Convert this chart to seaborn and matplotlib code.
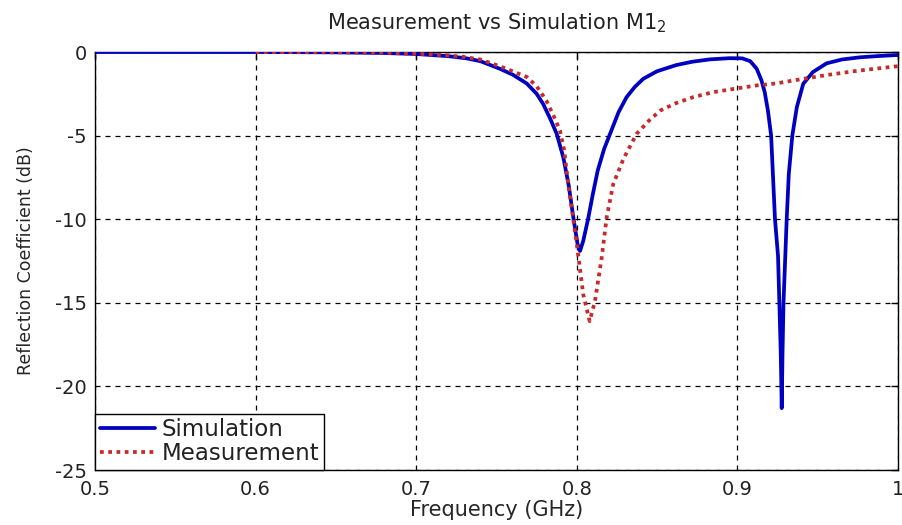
import matplotlib
matplotlib.use("Agg")
import matplotlib.pyplot as plt
import seaborn as sns
import pandas as pd

sim_freq = [0.50, 0.60, 0.65, 0.68, 0.70, 0.72, 0.7314, 0.74, 0.752, 0.76, 0.7688, 0.775,
            0.779, 0.7835, 0.7875, 0.7916, 0.795, 0.798, 0.8005, 0.802, 0.804, 0.807, 0.810,
            0.813, 0.817, 0.8207, 0.826, 0.831, 0.836, 0.8414, 0.85, 0.862, 0.872, 0.883,
            0.895, 0.903, 0.908, 0.912, 0.915, 0.917, 0.919, 0.921, 0.9234, 0.9253, 0.9270,
            0.9276, 0.9281, 0.9287, 0.9307, 0.932, 0.9342, 0.937, 0.941, 0.947, 0.9555,
            0.965, 0.976, 0.988, 1.0]
sim_db = [0.0, 0.0, -0.02, -0.06, -0.12, -0.25, -0.38, -0.55, -1.0, -1.35, -1.88, -2.5,
          -3.1, -4.0, -4.9, -6.3, -8.0, -10.0, -11.5, -11.9, -11.3, -10.0, -8.5,
          -7.1, -5.8, -4.9, -3.6, -2.7, -2.1, -1.6, -1.15, -0.78, -0.58, -0.44,
          -0.37, -0.38, -0.55, -1.0, -1.7, -2.4, -3.5, -5.0, -10.0, -12.2, -18.0,
          -21.3, -18.0, -15.0, -10.0, -7.3, -5.0, -3.3, -1.9, -1.2, -0.68,
          -0.45, -0.32, -0.24, -0.18]

meas_freq = [0.60, 0.65, 0.68, 0.70, 0.72, 0.73, 0.74, 0.752, 0.76, 0.769, 0.775, 0.781,
             0.7855, 0.7895, 0.792, 0.7947, 0.800, 0.804, 0.808, 0.8113, 0.8155, 0.8186,
             0.8227, 0.829, 0.8372, 0.845, 0.852, 0.862, 0.8725, 0.885, 0.8995, 0.912,
             0.924, 0.94, 0.9555, 0.975, 0.997, 1.0]
meas_db = [0.0, -0.02, -0.05, -0.1, -0.2, -0.3, -0.45, -0.85, -1.15, -1.5, -2.05, -2.9,
           -3.8, -4.7, -5.8, -7.9, -11.5, -14.5, -16.1, -14.9, -12.3, -9.9,
           -7.9, -6.4, -4.9, -4.1, -3.5, -3.05, -2.7, -2.4, -2.18, -2.0,
           -1.88, -1.62, -1.38, -1.12, -0.88, -0.85]

title = "Measurement vs Simulation M1$_2$"
xlabel = "Frequency (GHz)"
ylabel = "Reflection Coefficient (dB)"
xticks = [0.5, 0.6, 0.7, 0.8, 0.9, 1.0]
xticklabels = ["0.5", "0.6", "0.7", "0.8", "0.9", "1"]
yticks = [0, -5, -10, -15, -20, -25]

sns.set_style("white")
plt.rcParams['font.family'] = ['DejaVu Sans']
plt.rcParams['mathtext.fontset'] = 'dejavusans'
plt.rcParams['axes.unicode_minus'] = False
plt.rcParams['text.color'] = '#222222'

fig = plt.figure(figsize=(9.03, 5.25), dpi=100)
ax = fig.add_axes([95/903, 1-470/525, (898-95)/903, (470-52)/525])

sim = pd.DataFrame({"f": sim_freq, "db": sim_db})
meas = pd.DataFrame({"f": meas_freq, "db": meas_db})

sns.lineplot(data=sim, x="f", y="db", ax=ax, color="#0000c0", linewidth=2.7,
             label="Simulation", sort=False, zorder=3)
sns.lineplot(data=meas, x="f", y="db", ax=ax, color="#c62a2a", linewidth=2.7,
             linestyle=(0, (1, 1.2)), label="Measurement", sort=False, zorder=4)

ax.set_xlim(0.5, 1.0)
ax.set_ylim(-25, 0)
ax.set_xticks(xticks)
ax.set_xticklabels(xticklabels)
ax.set_yticks(yticks)
ax.tick_params(direction="in", length=5, width=1, labelsize=14, colors="black",
               labelcolor="#222222", top=True, right=True)
ax.tick_params(axis="x", pad=7)
ax.tick_params(axis="y", pad=6)
ax.grid(True, color="black", linestyle=(0, (4, 4)), linewidth=0.9)
for s in ax.spines.values():
    s.set_visible(True)
    s.set_color("black")
    s.set_linewidth(1.0)

ax.set_title(title, fontsize=15, pad=16)
ax.set_xlabel(xlabel, fontsize=15, labelpad=1)
ax.set_ylabel(ylabel, fontsize=12.5, labelpad=14)

leg = ax.legend(loc="lower left", fontsize=16.5, frameon=True, fancybox=False,
                borderpad=0.2, handlelength=2.4, handletextpad=0.3,
                labelspacing=0.05, borderaxespad=0.0)
leg.get_frame().set_edgecolor("black")
leg.get_frame().set_linewidth(1.0)
leg.get_frame().set_alpha(1)

fig.savefig("out.png", dpi=100, facecolor="white")
